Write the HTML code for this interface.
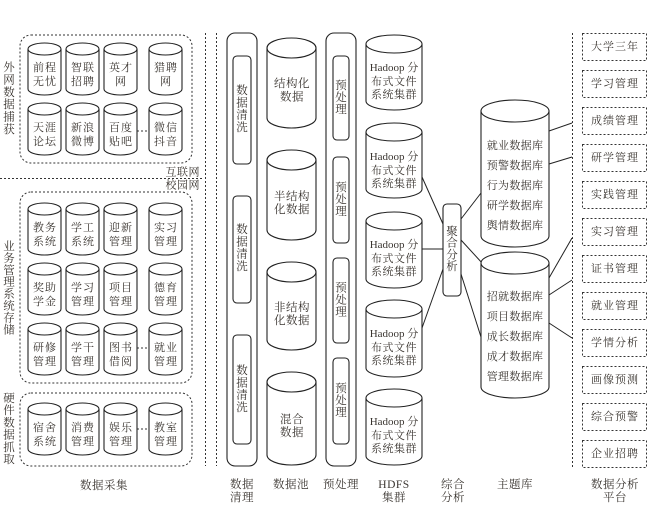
<!DOCTYPE html>
<html>
<head>
<meta charset="utf-8">
<style>
  html,body{margin:0;padding:0;background:#fff;}
  svg{display:block;}
  text{font-family:"Liberation Serif","Noto Serif CJK SC",serif;fill:#3a3530;}
</style>
</head>
<body>
<svg width="667" height="511" viewBox="0 0 667 511" xmlns="http://www.w3.org/2000/svg">
  <rect width="667" height="511" fill="#fff"/>

  <!-- ============ LEFT: 数据采集 ============ -->
  <g fill="none" stroke="#333" stroke-width="1" stroke-dasharray="2,2">
    <rect x="20" y="35" width="172" height="128" rx="11"/>
    <rect x="20" y="192" width="172" height="191" rx="11"/>
    <rect x="20" y="393" width="172" height="73" rx="11"/>
    <line x1="0" y1="178.5" x2="202" y2="178.5"/>
    <line x1="205.5" y1="33" x2="205.5" y2="466"/>
    <line x1="216.5" y1="33" x2="216.5" y2="466"/>
    <line x1="137" y1="131" x2="149" y2="131"/>
    <line x1="137" y1="348" x2="149" y2="348"/>
    <line x1="137" y1="429" x2="149" y2="429"/>
    <line x1="572.5" y1="33" x2="572.5" y2="467"/>
  </g>

  <!-- small cylinders -->
  <g fill="#fff" stroke="#222" stroke-width="1.1">
    <!-- row tops: 43,103,203,263,323,403 ; cols 28,66,104,149 -->
    <!-- template: ellipse + body -->
    <g id="cyls">
      <path d="M28 49 V89 A16.5 6 0 0 0 61 89 V49"/><ellipse cx="44.5" cy="49" rx="16.5" ry="6"/>
      <path d="M66 49 V89 A16.5 6 0 0 0 99 89 V49"/><ellipse cx="82.5" cy="49" rx="16.5" ry="6"/>
      <path d="M104 49 V89 A16.5 6 0 0 0 137 89 V49"/><ellipse cx="120.5" cy="49" rx="16.5" ry="6"/>
      <path d="M149 49 V89 A16.5 6 0 0 0 182 89 V49"/><ellipse cx="165.5" cy="49" rx="16.5" ry="6"/>

      <path d="M28 109 V149 A16.5 6 0 0 0 61 149 V109"/><ellipse cx="44.5" cy="109" rx="16.5" ry="6"/>
      <path d="M66 109 V149 A16.5 6 0 0 0 99 149 V109"/><ellipse cx="82.5" cy="109" rx="16.5" ry="6"/>
      <path d="M104 109 V149 A16.5 6 0 0 0 137 149 V109"/><ellipse cx="120.5" cy="109" rx="16.5" ry="6"/>
      <path d="M149 109 V149 A16.5 6 0 0 0 182 149 V109"/><ellipse cx="165.5" cy="109" rx="16.5" ry="6"/>

      <path d="M28 209 V249 A16.5 6 0 0 0 61 249 V209"/><ellipse cx="44.5" cy="209" rx="16.5" ry="6"/>
      <path d="M66 209 V249 A16.5 6 0 0 0 99 249 V209"/><ellipse cx="82.5" cy="209" rx="16.5" ry="6"/>
      <path d="M104 209 V249 A16.5 6 0 0 0 137 249 V209"/><ellipse cx="120.5" cy="209" rx="16.5" ry="6"/>
      <path d="M149 209 V249 A16.5 6 0 0 0 182 249 V209"/><ellipse cx="165.5" cy="209" rx="16.5" ry="6"/>

      <path d="M28 269 V309 A16.5 6 0 0 0 61 309 V269"/><ellipse cx="44.5" cy="269" rx="16.5" ry="6"/>
      <path d="M66 269 V309 A16.5 6 0 0 0 99 309 V269"/><ellipse cx="82.5" cy="269" rx="16.5" ry="6"/>
      <path d="M104 269 V309 A16.5 6 0 0 0 137 309 V269"/><ellipse cx="120.5" cy="269" rx="16.5" ry="6"/>
      <path d="M149 269 V309 A16.5 6 0 0 0 182 309 V269"/><ellipse cx="165.5" cy="269" rx="16.5" ry="6"/>

      <path d="M28 329 V369 A16.5 6 0 0 0 61 369 V329"/><ellipse cx="44.5" cy="329" rx="16.5" ry="6"/>
      <path d="M66 329 V369 A16.5 6 0 0 0 99 369 V329"/><ellipse cx="82.5" cy="329" rx="16.5" ry="6"/>
      <path d="M104 329 V369 A16.5 6 0 0 0 137 369 V329"/><ellipse cx="120.5" cy="329" rx="16.5" ry="6"/>
      <path d="M149 329 V369 A16.5 6 0 0 0 182 369 V329"/><ellipse cx="165.5" cy="329" rx="16.5" ry="6"/>

      <path d="M28 409 V449 A16.5 6 0 0 0 61 449 V409"/><ellipse cx="44.5" cy="409" rx="16.5" ry="6"/>
      <path d="M66 409 V449 A16.5 6 0 0 0 99 449 V409"/><ellipse cx="82.5" cy="409" rx="16.5" ry="6"/>
      <path d="M104 409 V449 A16.5 6 0 0 0 137 449 V409"/><ellipse cx="120.5" cy="409" rx="16.5" ry="6"/>
      <path d="M149 409 V449 A16.5 6 0 0 0 182 449 V409"/><ellipse cx="165.5" cy="409" rx="16.5" ry="6"/>
    </g>
  </g>

  <!-- small cylinder labels -->
  <g font-size="11" text-anchor="middle" dominant-baseline="central" letter-spacing="1">
    <text x="45" y="68">前程</text><text x="45" y="82">无忧</text>
    <text x="83" y="68">智联</text><text x="83" y="82">招聘</text>
    <text x="121" y="68">英才</text><text x="121" y="82">网</text>
    <text x="166" y="68">猎聘</text><text x="166" y="82">网</text>

    <text x="45" y="128">天涯</text><text x="45" y="142">论坛</text>
    <text x="83" y="128">新浪</text><text x="83" y="142">微博</text>
    <text x="121" y="128">百度</text><text x="121" y="142">贴吧</text>
    <text x="166" y="128">微信</text><text x="166" y="142">抖音</text>

    <text x="45" y="228">教务</text><text x="45" y="242">系统</text>
    <text x="83" y="228">学工</text><text x="83" y="242">系统</text>
    <text x="121" y="228">迎新</text><text x="121" y="242">管理</text>
    <text x="166" y="228">实习</text><text x="166" y="242">管理</text>

    <text x="45" y="288">奖助</text><text x="45" y="302">学金</text>
    <text x="83" y="288">学习</text><text x="83" y="302">管理</text>
    <text x="121" y="288">项目</text><text x="121" y="302">管理</text>
    <text x="166" y="288">德育</text><text x="166" y="302">管理</text>

    <text x="45" y="348">研修</text><text x="45" y="362">管理</text>
    <text x="83" y="348">学干</text><text x="83" y="362">管理</text>
    <text x="121" y="348">图书</text><text x="121" y="362">借阅</text>
    <text x="166" y="348">就业</text><text x="166" y="362">管理</text>

    <text x="45" y="428">宿舍</text><text x="45" y="442">系统</text>
    <text x="83" y="428">消费</text><text x="83" y="442">管理</text>
    <text x="121" y="428">娱乐</text><text x="121" y="442">管理</text>
    <text x="166" y="428">教室</text><text x="166" y="442">管理</text>
  </g>

  <!-- left vertical labels -->
  <g font-size="11.5" text-anchor="middle" dominant-baseline="central">
    <text x="9" y="68">外</text><text x="9" y="80.4">网</text><text x="9" y="92.8">数</text>
    <text x="9" y="105.2">据</text><text x="9" y="117.6">捕</text><text x="9" y="130">获</text>

    <text x="9" y="247">业</text><text x="9" y="258.9">务</text><text x="9" y="270.8">管</text>
    <text x="9" y="282.7">理</text><text x="9" y="294.6">系</text><text x="9" y="306.5">统</text>
    <text x="9" y="318.4">存</text><text x="9" y="330.3">储</text>

    <text x="9" y="399">硬</text><text x="9" y="411.2">件</text><text x="9" y="423.4">数</text>
    <text x="9" y="435.6">据</text><text x="9" y="447.8">抓</text><text x="9" y="460">取</text>
  </g>
  <g font-size="11" text-anchor="end" dominant-baseline="central" letter-spacing="0.5">
    <text x="200" y="172.5">互联网</text>
    <text x="200" y="185.5">校园网</text>
  </g>

  <!-- ============ 数据清理 ============ -->
  <g fill="none" stroke="#222" stroke-width="1.1">
    <rect x="227" y="33" width="30" height="433" rx="8"/>
    <rect x="233" y="56" width="18" height="108" rx="4"/>
    <rect x="233" y="196" width="18" height="107" rx="4"/>
    <rect x="233" y="335" width="18" height="109" rx="4"/>

    <rect x="326" y="33" width="30" height="433" rx="8"/>
    <rect x="333" y="56" width="16" height="84" rx="4"/>
    <rect x="333" y="157" width="16" height="86" rx="4"/>
    <rect x="333" y="258" width="16" height="85" rx="4"/>
    <rect x="333" y="358" width="16" height="86" rx="4"/>

    <rect x="443" y="204" width="18" height="92" rx="4"/>
  </g>
  <g font-size="11.5" text-anchor="middle" dominant-baseline="central">
    <text x="242" y="91">数</text><text x="242" y="103.3">据</text><text x="242" y="115.6">清</text><text x="242" y="128">洗</text>
    <text x="242" y="230">数</text><text x="242" y="242.3">据</text><text x="242" y="254.6">清</text><text x="242" y="267">洗</text>
    <text x="242" y="371">数</text><text x="242" y="383.3">据</text><text x="242" y="395.6">清</text><text x="242" y="408">洗</text>

    <text x="341" y="86">预</text><text x="341" y="98">处</text><text x="341" y="110">理</text>
    <text x="341" y="188">预</text><text x="341" y="200">处</text><text x="341" y="212">理</text>
    <text x="341" y="288.5">预</text><text x="341" y="300.5">处</text><text x="341" y="312.5">理</text>
    <text x="341" y="389">预</text><text x="341" y="401">处</text><text x="341" y="413">理</text>

    <text x="452" y="232">聚</text><text x="452" y="243.7">合</text><text x="452" y="255.4">分</text><text x="452" y="267">析</text>
  </g>

  <!-- ============ 数据池 cylinders ============ -->
  <g fill="#fff" stroke="#222" stroke-width="1.1">
    <path d="M267 48 V118 A24.5 10 0 0 0 316 118 V48"/><ellipse cx="291.5" cy="48" rx="24.5" ry="10"/>
    <path d="M267 160 V230 A24.5 10 0 0 0 316 230 V160"/><ellipse cx="291.5" cy="160" rx="24.5" ry="10"/>
    <path d="M267 272 V340 A24.5 10 0 0 0 316 340 V272"/><ellipse cx="291.5" cy="272" rx="24.5" ry="10"/>
    <path d="M267 382 V455 A24.5 10 0 0 0 316 455 V382"/><ellipse cx="291.5" cy="382" rx="24.5" ry="10"/>
  </g>
  <g font-size="11.5" text-anchor="middle" dominant-baseline="central" letter-spacing="0.5">
    <text x="292" y="84">结构化</text><text x="292" y="97.5">数据</text>
    <text x="292" y="197">半结构</text><text x="292" y="210">化数据</text>
    <text x="292" y="308">非结构</text><text x="292" y="321">化数据</text>
    <text x="292" y="420">混合</text><text x="292" y="433">数据</text>
  </g>

  <!-- ============ HDFS cylinders ============ -->
  <g fill="#fff" stroke="#222" stroke-width="1.1">
    <path d="M366 44 V101 A28 9 0 0 0 422 101 V44"/><ellipse cx="394" cy="44" rx="28" ry="9"/>
    <path d="M366 132 V189 A28 9 0 0 0 422 189 V132"/><ellipse cx="394" cy="132" rx="28" ry="9"/>
    <path d="M366 221 V279 A28 9 0 0 0 422 279 V221"/><ellipse cx="394" cy="221" rx="28" ry="9"/>
    <path d="M366 309 V368 A28 9 0 0 0 422 368 V309"/><ellipse cx="394" cy="309" rx="28" ry="9"/>
    <path d="M366 398 V456 A28 9 0 0 0 422 456 V398"/><ellipse cx="394" cy="398" rx="28" ry="9"/>
  </g>
  <g font-size="11" text-anchor="middle" dominant-baseline="central">
    <text x="394" y="68">Hadoop 分</text><text x="394" y="82" letter-spacing="0.5">布式文件</text><text x="394" y="95" letter-spacing="0.5">系统集群</text>
    <text x="394" y="157">Hadoop 分</text><text x="394" y="171" letter-spacing="0.5">布式文件</text><text x="394" y="184" letter-spacing="0.5">系统集群</text>
    <text x="394" y="245">Hadoop 分</text><text x="394" y="259" letter-spacing="0.5">布式文件</text><text x="394" y="272" letter-spacing="0.5">系统集群</text>
    <text x="394" y="334">Hadoop 分</text><text x="394" y="348" letter-spacing="0.5">布式文件</text><text x="394" y="361" letter-spacing="0.5">系统集群</text>
    <text x="394" y="422">Hadoop 分</text><text x="394" y="436" letter-spacing="0.5">布式文件</text><text x="394" y="449" letter-spacing="0.5">系统集群</text>
  </g>

  <!-- connectors -->
  <g stroke="#222" stroke-width="1" fill="none">
    <line x1="422" y1="177" x2="443" y2="224"/>
    <line x1="422" y1="249" x2="443" y2="249"/>
    <line x1="422" y1="328" x2="443" y2="269"/>
    <line x1="461" y1="219" x2="481" y2="193"/>
    <line x1="461" y1="240" x2="483" y2="264"/>
    <line x1="461" y1="274" x2="481" y2="337"/>
    <line x1="549" y1="131" x2="572" y2="123"/>
    <line x1="549" y1="164" x2="572" y2="157"/>
    <line x1="549" y1="278" x2="572" y2="238"/>
    <line x1="549" y1="295" x2="572" y2="280"/>
    <line x1="549" y1="323" x2="572" y2="338"/>
  </g>

  <!-- ============ 主题库 cylinders ============ -->
  <g fill="#fff" stroke="#222" stroke-width="1.1">
    <path d="M481 111 V236 A34 11 0 0 0 549 236 V111"/><ellipse cx="515" cy="111" rx="34" ry="11"/>
    <path d="M481 263 V387 A34 11 0 0 0 549 387 V263"/><ellipse cx="515" cy="263" rx="34" ry="11"/>
  </g>
  <g font-size="11" text-anchor="middle" dominant-baseline="central" letter-spacing="0.3">
    <text x="515" y="146">就业数据库</text>
    <text x="515" y="166">预警数据库</text>
    <text x="515" y="186">行为数据库</text>
    <text x="515" y="206">研学数据库</text>
    <text x="515" y="226">舆情数据库</text>
    <text x="515" y="297">招就数据库</text>
    <text x="515" y="317">项目数据库</text>
    <text x="515" y="337">成长数据库</text>
    <text x="515" y="357">成才数据库</text>
    <text x="515" y="377">管理数据库</text>
  </g>

  <!-- ============ 数据分析平台 boxes ============ -->
  <g fill="none" stroke="#333" stroke-width="1" stroke-dasharray="2,2">
    <rect x="582.5" y="33.5" width="64" height="27"/>
    <rect x="582.5" y="70.5" width="64" height="27"/>
    <rect x="582.5" y="107.5" width="64" height="27"/>
    <rect x="582.5" y="144.5" width="64" height="27"/>
    <rect x="582.5" y="181.5" width="64" height="27"/>
    <rect x="582.5" y="218.5" width="64" height="27"/>
    <rect x="582.5" y="255.5" width="64" height="27"/>
    <rect x="582.5" y="292.5" width="64" height="27"/>
    <rect x="582.5" y="329.5" width="64" height="27"/>
    <rect x="582.5" y="366.5" width="64" height="27"/>
    <rect x="582.5" y="403.5" width="64" height="27"/>
    <rect x="582.5" y="440.5" width="64" height="27"/>
  </g>
  <g font-size="11" text-anchor="middle" dominant-baseline="central" letter-spacing="1">
    <text x="615" y="47">大学三年</text>
    <text x="615" y="84">学习管理</text>
    <text x="615" y="121">成绩管理</text>
    <text x="615" y="158">研学管理</text>
    <text x="615" y="195">实践管理</text>
    <text x="615" y="232">实习管理</text>
    <text x="615" y="269">证书管理</text>
    <text x="615" y="306">就业管理</text>
    <text x="615" y="343">学情分析</text>
    <text x="615" y="380">画像预测</text>
    <text x="615" y="417">综合预警</text>
    <text x="615" y="454">企业招聘</text>
  </g>

  <!-- ============ bottom labels ============ -->
  <g font-size="11.5" text-anchor="middle" dominant-baseline="central" letter-spacing="0.5">
    <text x="104" y="486">数据采集</text>
    <text x="242" y="485">数据</text><text x="242" y="498">清理</text>
    <text x="291" y="485">数据池</text>
    <text x="341" y="485">预处理</text>
    <text x="394" y="485">HDFS</text><text x="394" y="498">集群</text>
    <text x="453" y="485">综合</text><text x="453" y="498">分析</text>
    <text x="515" y="485">主题库</text>
    <text x="615" y="485">数据分析</text><text x="615" y="498">平台</text>
  </g>
</svg>
</body>
</html>
